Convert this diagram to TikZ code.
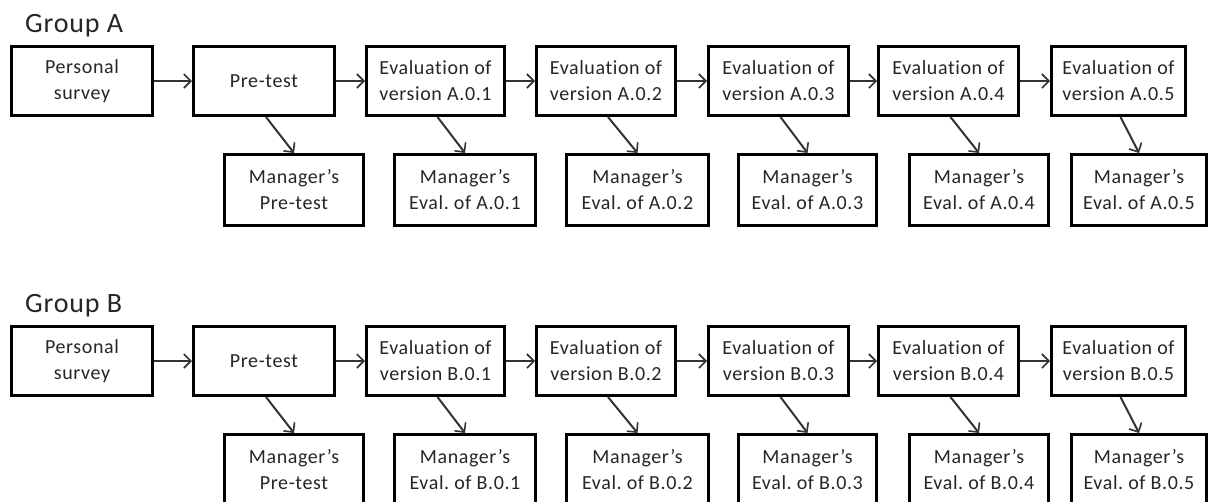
\documentclass[tikz,border=0pt]{standalone}
\usepackage{fontspec}
\setmainfont{Carlito}[Ligatures=NoCommon]
\newfontfamily\spacedfont{Carlito}[Ligatures=NoCommon,LetterSpace=3]
\usetikzlibrary{arrows.meta}
\begin{document}
\begin{tikzpicture}[x=1pt,y=-1pt,
  stagebox/.style={draw=black,line width=3pt,fill=white,align=center,
    inner sep=0pt,text=black!85,font=\spacedfont\fontsize{20}{26}\selectfont},
  toprow/.style={stagebox,minimum height=69pt},
  lowrow/.style={stagebox,minimum height=71pt},
  grouptitle/.style={anchor=base west,inner sep=0pt,text=black!85,
    font=\spacedfont\fontsize{28}{32}\selectfont},
  flow/.style={draw=black!80,line width=2pt,
    -{Straight Barb[length=7pt,width=14pt,line width=1.6pt]}}]
\clip (0,0) rectangle (1210,501);
\useasboundingbox (0,0) rectangle (1210,501);
\foreach \g/\dy in {A/0,B/280}{
  % group heading
  \node[grouptitle] (title\g) at (25,{32+\dy}) {Group \g};
  % first two stages
  \node[toprow,minimum width=141pt] (\g-ps) at (82,{81+\dy}) {Personal\\survey};
  \node[toprow,minimum width=141pt] (\g-pt) at (264,{81+\dy}) {Pre-test};
  \node[lowrow,minimum width=139pt] (\g-mpt) at (294,{190+\dy}) {Manager’s\\Pre-test};
  % evaluation stages and the manager's evaluations below them
  \foreach \i/\x/\w/\mx/\mw in {1/435.5/138/465/141, 2/606/139/637.5/142,
      3/778.5/140/807.5/138, 4/948.5/140/979/139, 5/1118.5/134/1139/135}{
    \node[toprow,minimum width=\w pt] (\g-e\i) at (\x,{81+\dy})
      {Evaluation of\\version \g.0.\i};
    \node[lowrow,minimum width=\mw pt] (\g-m\i) at (\mx,{190+\dy})
      {Manager’s\\Eval.\ of \g.0.\i};
  }
  % sequence along the top row
  \foreach \a/\b in {ps/pt,pt/e1,e1/e2,e2/e3,e3/e4,e4/e5}{
    \draw[flow] (\g-\a.east) -- (\g-\b.west);
  }
  % hand-offs to the manager
  \draw[flow] ([xshift=2pt]\g-pt.south) -- (\g-mpt.north);
  \foreach \i in {1,...,5}{
    \draw[flow] ([xshift=2pt]\g-e\i.south) -- (\g-m\i.north);
  }
}
\end{tikzpicture}
\end{document}
